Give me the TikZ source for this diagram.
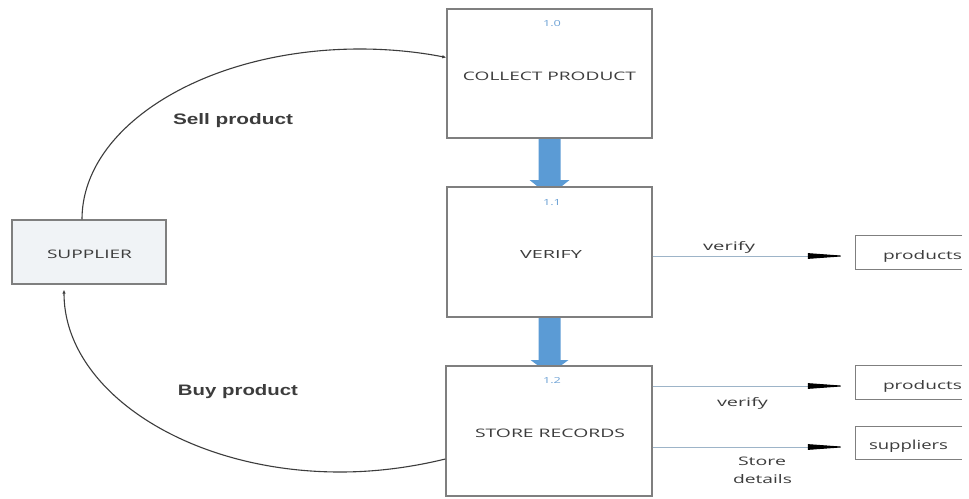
\documentclass[tikz,border=0pt]{standalone}
\usepackage{fontspec}
\setmainfont{Open Sans}
\newfontfamily\labelfont{Liberation Sans}
\usepackage{graphicx}
\usetikzlibrary{arrows.meta,calc}

\definecolor{frame}{HTML}{7F7F7F}
\definecolor{ink}{HTML}{3C3C3C}
\definecolor{procblue}{HTML}{5B9BD5}
\definecolor{numblue}{HTML}{6FA3D6}
\definecolor{flowline}{HTML}{9DB4C8}
\definecolor{supfill}{HTML}{F0F3F6}

% stretch a piece of text to a given width and height (in pt)
\newcommand\fittext[3]{\resizebox{#1pt}{#2pt}{#3}}

\begin{document}
\begin{tikzpicture}[x=1pt,y=-1pt,
  proc/.style={draw=frame,line width=1.4pt,fill=white,inner sep=0pt,minimum width=205pt},
  entity/.style={draw=frame,line width=1.4pt,fill=supfill,inner sep=0pt,minimum width=154pt,minimum height=64pt},
  store/.style={inner sep=0pt,minimum width=106pt,minimum height=33pt},
  storeline/.style={draw=frame,line width=1.3pt},
  txt/.style={inner sep=0pt,anchor=base,text=ink},
  num/.style={inner sep=0pt,anchor=base,text=numblue},
  bold/.style={inner sep=0pt,anchor=base,text=ink,font=\labelfont\bfseries},
  flow/.style={draw=flowline,line width=1pt,-{Triangle[length=40pt,width=5.5pt,color=black]}},
  curve/.style={draw=ink,line width=1.1pt,-{Latex[length=4pt,width=3.5pt]}},
  bigarrow/.style={fill=procblue,draw=none}]

  % canvas
  \fill[white] (0,0) rectangle (969,498);
  \useasboundingbox (0,0) rectangle (969,498);

  % node positions (boxes are drawn after the thick arrows so they cover the tips)
  \path (549.5,73.5) coordinate (cpc)
        (549.5,252) coordinate (vfc)
        (549,431) coordinate (src);

  % thick blue process-to-process arrows
  \path (549.5,138) coordinate (cpS) (549.5,187) coordinate (vfN)
        (549.5,317) coordinate (vfS) (549.5,366) coordinate (srN);
  \fill[bigarrow] ($(cpS)+(-11,0)$) -- ($(cpS)+(-11,42)$) -- ($(cpS)+(-20,42)$)
        -- ($(vfN)+(0,9)$) -- ($(cpS)+(20,42)$) -- ($(cpS)+(11,42)$)
        -- ($(cpS)+(11,0)$) -- cycle;
  \fill[bigarrow] ($(vfS)+(-11,0)$) -- ($(vfS)+(-11,43)$) -- ($(vfS)+(-19,43)$)
        -- ($(srN)+(0,8)$) -- ($(vfS)+(19,43)$) -- ($(vfS)+(11,43)$)
        -- ($(vfS)+(11,0)$) -- cycle;

  % processes
  \node[proc,minimum height=129pt] (cp) at (cpc) {};
  \node[proc,minimum height=130pt] (vf) at (vfc) {};
  \node[proc,minimum height=130pt,minimum width=206pt] (sr) at (src) {};

  \node[num] (n10) at (552,26) {\fittext{18}{6}{1.0}};
  \node[num] (n11) at (552,205) {\fittext{18}{6}{1.1}};
  \node[num] (n12) at (552,383) {\fittext{18}{6}{1.2}};

  \node[txt] (tcp) at (549.5,80) {\fittext{173}{8.5}{COLLECT PRODUCT}};
  \node[txt] (tvf) at (551,258.5) {\fittext{62}{8}{VERIFY}};
  \node[txt] (tsr) at (550,437) {\fittext{150}{8.5}{STORE RECORDS}};

  % external entity
  \node[entity] (sup) at (89,252) {};
  \node[txt] (tsup) at (89.5,258.5) {\fittext{85}{8.5}{SUPPLIER}};

  % data stores (open on the right)
  \node[store] (p1) at (909,252.5) {};
  \node[store] (p2) at (909,382.5) {};
  \node[store,minimum height=32pt] (s1) at (909,443) {};
  \foreach \s in {p1,p2,s1}
    \draw[storeline] (\s.north east) -- (\s.north west) -- (\s.south west) -- (\s.south east);

  \node[txt] (tp1) at (922.5,259) {\fittext{79}{9}{products}};
  \node[txt] (tp2) at (922.5,389) {\fittext{79}{9}{products}};
  \node[txt] (ts1) at (908.5,449) {\fittext{79}{9.5}{suppliers}};

  % data flows to the stores
  \draw[flow] ([yshift=-4pt]vf.east) -- ([xshift=-8pt,yshift=-3.5pt]p1.west);
  \draw[flow] ([yshift=45pt]sr.east) -- ([xshift=-8pt,yshift=-3.5pt]p2.west);
  \draw[flow] ([yshift=-16pt]sr.east) -- ([xshift=-8pt,yshift=-4pt]s1.west);

  \node[txt] (lv1) at (729,250) {\fittext{52}{9}{verify}};
  \node[txt] (lv2) at (742.5,406) {\fittext{51}{9}{verify}};
  \node[txt] (ls1) at (762,465) {\fittext{48}{8.5}{Store}};
  \node[txt] (ls2) at (762.5,483) {\fittext{59}{9}{details}};

  % supplier <-> process flows
  \draw[curve] ([xshift=-7pt]sup.north) .. controls (82,125.6) and (206.5,49) .. (360,49)
        .. controls (389.2,49) and (418.1,51.9) .. ([yshift=16pt]cp.west);
  \draw[curve] ([yshift=-28pt]sr.west) .. controls (410.5,467.5) and (375.4,472) .. (340,472)
        .. controls (187.6,472) and (64,390.5) .. ([xshift=-25pt,yshift=-5pt]sup.south);

  \node[bold] (lsell) at (233,124.5) {\fittext{120}{11}{Sell product}};
  \node[bold] (lbuy) at (238,395.5) {\fittext{120}{11}{Buy product}};
\end{tikzpicture}
\end{document}
